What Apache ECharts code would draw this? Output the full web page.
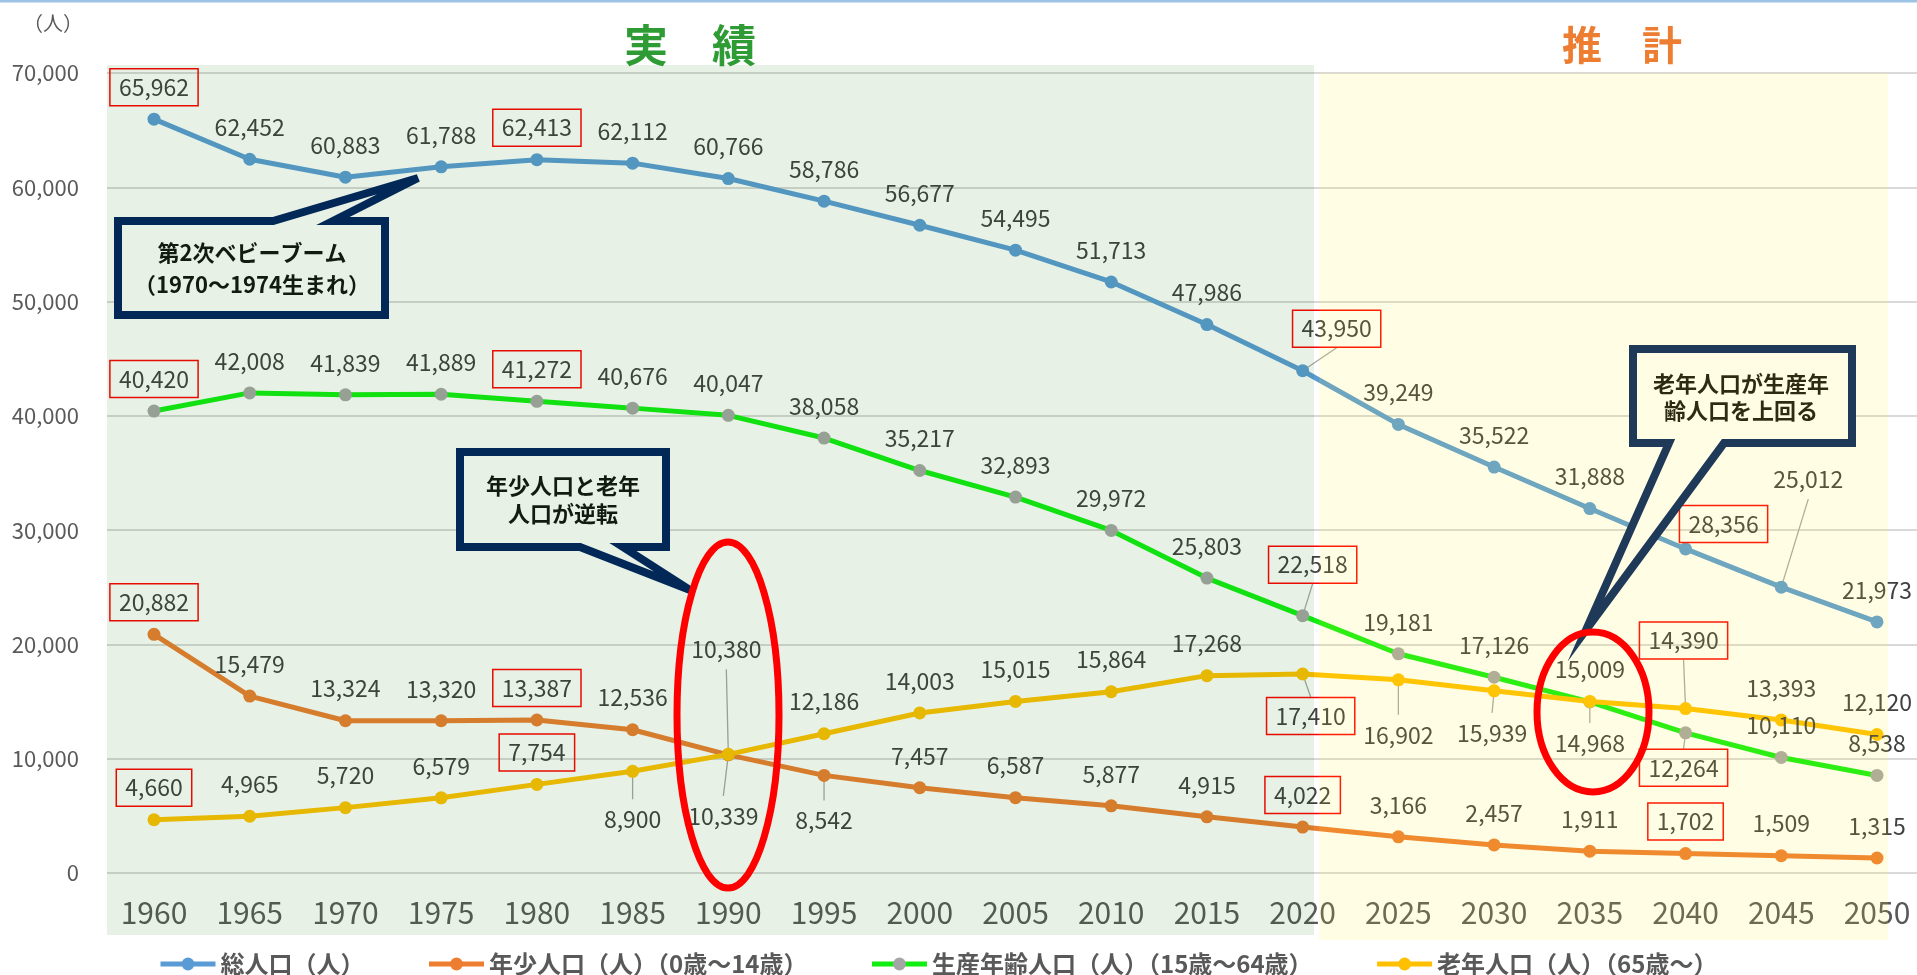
<!DOCTYPE html>
<html>
<head>
<meta charset="utf-8">
<script src="https://cdn.jsdelivr.net/npm/echarts@6/dist/echarts.min.js"></script>
<style>
html, body { margin: 0; padding: 0; background: #fff; }
#chart { width: 1917px; height: 975px; }
</style>
</head>
<body>
<div id="chart"></div>
<script>
// 年次
var years = [1960, 1965, 1970, 1975, 1980, 1985, 1990, 1995, 2000, 2005, 2010, 2015, 2020, 2025, 2030, 2035, 2040, 2045, 2050];
// 総人口
var totalPop = [65962, 62452, 60883, 61788, 62413, 62112, 60766, 58786, 56677, 54495, 51713, 47986, 43950, 39249, 35522, 31888, 28356, 25012, 21973];
// 年少人口（0～14歳）
var youngPop = [20882, 15479, 13324, 13320, 13387, 12536, 10339, 8542, 7457, 6587, 5877, 4915, 4022, 3166, 2457, 1911, 1702, 1509, 1315];
// 生産年齢人口（15～64歳）
var workingPop = [40420, 42008, 41839, 41889, 41272, 40676, 40047, 38058, 35217, 32893, 29972, 25803, 22518, 19181, 17126, 14968, 12264, 10110, 8538];
// 老年人口（65歳～）
var elderlyPop = [4660, 4965, 5720, 6579, 7754, 8900, 10380, 12186, 14003, 15015, 15864, 17268, 17410, 16902, 15939, 15009, 14390, 13393, 12120];
// 赤枠で囲む年
var boxedYears = [1960, 1980, 2020, 2040];
var seriesNames = ['総人口（人）', '年少人口（人）（0歳～14歳）', '生産年齢人口（人）（15歳～64歳）', '老年人口（人）（65歳～）'];

var FONT = '"Noto Sans CJK JP", "Noto Sans", sans-serif';

// ラベルの位置（点からのずれ）と引き出し線
var defaultShift = [0, -32];
var labelShift = {
    total: {2020: [34, -42], 2040: [38, -25], 2045: [27, -108]},
    young: {1990: [-5, 61], 1995: [0, 45]},
    working: {2020: [10, -51], 2035: [0, 41], 2040: [-2, 35]},
    elderly: {1985: [0, 48], 1990: [-2, -105], 2020: [8, 42], 2025: [0, 55], 2030: [-2, 42], 2040: [-2, -68]}
};
var leaderYears = {
    total: [2020, 2045],
    young: [1990, 1995],
    working: [2020, 2035, 2040],
    elderly: [1985, 1990, 2020, 2025, 2030, 2040]
};

var seriesDefs = [
    {name: seriesNames[0], vals: totalPop, key: 'total', line: '#5b9bd5', dot: '#5b9bd5'},
    {name: seriesNames[1], vals: youngPop, key: 'young', line: '#ed7d31', dot: '#ed7d31'},
    {name: seriesNames[2], vals: workingPop, key: 'working', line: '#11ee11', dot: '#a5a5a5'},
    {name: seriesNames[3], vals: elderlyPop, key: 'elderly', line: '#ffc000', dot: '#ffc000'}
];

function buildData(vals, key) {
    return vals.map(function (v, i) {
        var yr = years[i];
        var item = {
            value: [yr, v],
            label: {offset: labelShift[key][yr] || defaultShift}
        };
        if (boxedYears.indexOf(yr) >= 0) {
            item.label.borderColor = '#ff0000';
            item.label.borderWidth = 1.5;
            item.label.padding = [7, 9];
        }
        return item;
    });
}

function makeSeries(def) {
    return {
        name: def.name,
        type: 'line',
        data: buildData(def.vals, def.key),
        symbol: 'circle',
        symbolSize: 13,
        lineStyle: {color: def.line, width: 5},
        itemStyle: {color: def.dot},
        label: {
            show: true,
            position: 'inside',
            color: '#404040',
            fontSize: 23,
            fontFamily: FONT,
            formatter: function (p) {
                return p.value[1].toLocaleString('en-US');
            }
        },
        emphasis: {disabled: true}
    };
}

var chart = echarts.init(document.getElementById('chart'));

var decorations = [
    // 上端の線
    {id: 'topline', type: 'line', z: 1, shape: {x1: 0, y1: 1, x2: 1917, y2: 1}, style: {stroke: '#9dc3e6', lineWidth: 3}},
    // 単位
    {id: 'unit', type: 'text', x: 53, y: 23, style: {text: '（人）', fill: '#595959', font: '20px ' + FONT, textAlign: 'center', textVerticalAlign: 'middle'}},
    // 見出し
    {id: 't1', type: 'text', x: 690, y: 45, style: {text: '実　績', fill: '#2e9b34', font: 'bold 44px ' + FONT, textAlign: 'center', textVerticalAlign: 'middle'}},
    {id: 't2', type: 'text', x: 1622, y: 45, style: {text: '推　計', fill: '#ed7d31', font: 'bold 40px ' + FONT, textAlign: 'center', textVerticalAlign: 'middle'}},
    // 吹き出し
    {id: 'c1', type: 'polygon', z: 50, shape: {points: [[118, 221], [273, 221], [418, 178], [333, 221], [385, 221], [385, 315], [118, 315]]},
        style: {fill: '#ffffff', stroke: '#002060', lineWidth: 8, lineJoin: 'miter'}},
    {id: 'c1t', type: 'text', z: 51, x: 252, y: 269, style: {text: '第2次ベビーブーム\n（1970～1974生まれ）', fill: '#111111', font: 'bold 22px ' + FONT, lineHeight: 32, textAlign: 'center', textVerticalAlign: 'middle'}},
    {id: 'c2', type: 'polygon', z: 50, shape: {points: [[460, 452], [666, 452], [666, 547], [623, 547], [690, 590], [580, 547], [460, 547]]},
        style: {fill: '#ffffff', stroke: '#002060', lineWidth: 8, lineJoin: 'miter'}},
    {id: 'c2t', type: 'text', z: 51, x: 563, y: 500, style: {text: '年少人口と老年\n人口が逆転', fill: '#111111', font: 'bold 22px ' + FONT, lineHeight: 28, textAlign: 'center', textVerticalAlign: 'middle'}},
    {id: 'c3', type: 'polygon', z: 50, shape: {points: [[1633, 349], [1852, 349], [1852, 443], [1724, 443], [1586, 630], [1669, 443], [1633, 443]]},
        style: {fill: '#ffffff', stroke: '#002060', lineWidth: 8, lineJoin: 'miter'}},
    {id: 'c3t', type: 'text', z: 51, x: 1741, y: 397, style: {text: '老年人口が生産年\n齢人口を上回る', fill: '#111111', font: 'bold 22px ' + FONT, lineHeight: 27, textAlign: 'center', textVerticalAlign: 'middle'}},
    // 背景（実績・推計）
    {id: 'bgA', type: 'rect', z: 100, silent: true, shape: {x: 107, y: 65, width: 1207, height: 870}, style: {fill: 'rgba(15,115,10,0.1)'}},
    {id: 'bgB', type: 'rect', z: 100, silent: true, shape: {x: 1319, y: 73, width: 569, height: 867}, style: {fill: 'rgba(255,238,30,0.12)'}},
    // 赤い楕円
    {id: 'e1', type: 'ellipse', z: 110, shape: {cx: 728, cy: 715, rx: 51, ry: 173}, style: {fill: 'none', stroke: '#ff0000', lineWidth: 7}},
    {id: 'e2', type: 'ellipse', z: 110, shape: {cx: 1593, cy: 712, rx: 56, ry: 80}, style: {fill: 'none', stroke: '#ff0000', lineWidth: 7}}
];

chart.setOption({
    animation: false,
    backgroundColor: '#ffffff',
    textStyle: {fontFamily: FONT},
    grid: {left: 107, right: 0, top: 73, bottom: 102, containLabel: false},
    xAxis: {
        type: 'value',
        min: 1957.545,
        max: 2052.09,
        axisLine: {show: false},
        axisTick: {show: false},
        splitLine: {show: false},
        axisLabel: {
            customValues: years,
            fontSize: 30,
            color: '#595959',
            margin: 25,
            fontFamily: FONT,
            formatter: function (v) { return String(v); }
        }
    },
    yAxis: {
        type: 'value',
        min: 0,
        max: 70000,
        interval: 10000,
        axisLine: {show: false},
        axisTick: {show: false},
        splitLine: {lineStyle: {color: '#d9d9d9', width: 2}},
        axisLabel: {
            fontSize: 22,
            color: '#595959',
            margin: 28,
            fontFamily: FONT,
            formatter: function (v) { return v.toLocaleString('en-US'); }
        }
    },
    legend: {
        left: 153,
        top: 947,
        itemWidth: 55,
        itemHeight: 16,
        itemGap: 62,
        data: seriesNames.map(function (n) { return {name: n, lineStyle: {width: 5}}; }),
        lineStyle: {width: 5},
        textStyle: {fontSize: 24, fontWeight: 'bold', color: '#595959', fontFamily: FONT}
    },
    series: seriesDefs.map(makeSeries),
    graphic: decorations
});

// 引き出し線：点の位置はグラフの座標変換から求める
var leaders = [];
seriesDefs.forEach(function (def, si) {
    leaderYears[def.key].forEach(function (yr) {
        var i = years.indexOf(yr);
        var p = chart.convertToPixel({seriesIndex: si}, [yr, def.vals[i]]);
        var s = labelShift[def.key][yr];
        var half = boxedYears.indexOf(yr) >= 0 ? 19 : 20;
        var ex = p[0] + s[0];
        var ey = p[1] + s[1] + (s[1] < 0 ? half : -half);
        leaders.push({
            id: 'lead' + si + '_' + yr, type: 'line', z: 1, silent: true,
            shape: {x1: p[0], y1: p[1], x2: ex, y2: ey},
            style: {stroke: '#a6a6a6', lineWidth: 1.3}
        });
    });
});
chart.setOption({graphic: decorations.concat(leaders)});
</script>
</body>
</html>
